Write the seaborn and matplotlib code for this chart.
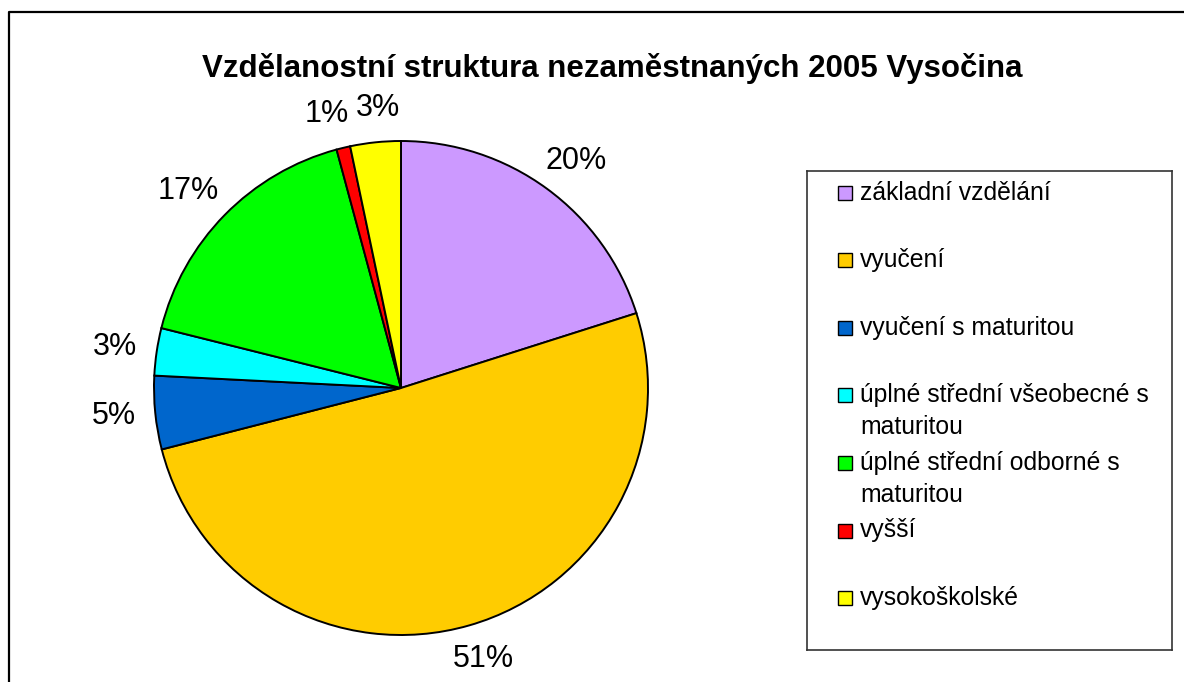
import textwrap
import numpy as np
import matplotlib
matplotlib.use("Agg")
import matplotlib.pyplot as plt
from matplotlib.lines import Line2D
from matplotlib.patches import Rectangle
import seaborn as sns

# data (percent shares, clockwise from 12 o'clock)
categories = ["základní vzdělání", "vyučení", "vyučení s maturitou",
              "úplné střední všeobecné s maturitou",
              "úplné střední odborné s maturitou", "vyšší", "vysokoškolské"]
shares = [20.1, 50.9, 4.8, 3.1, 16.9, 0.9, 3.3]
colors = ["#CC99FF", "#FFCC00", "#0066CC", "#00FFFF", "#00FF00", "#FF0000", "#FFFF00"]
title = "Vzdělanostní struktura nezaměstnaných 2005 Vysočina"

sns.set_theme(style="white")
plt.rcParams['font.family'] = ['Liberation Sans', 'DejaVu Sans']
plt.rcParams['text.color'] = 'black'

W, H = 1184, 682
fig = plt.figure(figsize=(W / 100, H / 100), dpi=100)

# pie axes: centre (401, 388) px, radius 247 px
cx, cy, r = 401, 388, 247
ax = fig.add_axes([(cx - r) / W, (H - cy - r) / H, 2 * r / W, 2 * r / H])
wedges, texts, autotexts = ax.pie(
    shares, colors=colors, startangle=90, counterclock=False,
    autopct=lambda p: f"{p:.0f}%", pctdistance=1.15,
    wedgeprops=dict(edgecolor="black", linewidth=1.4),
    textprops=dict(fontsize=22, color="black"))
ax.set_aspect("equal")
ax.set_xlim(-1, 1)
ax.set_ylim(-1, 1)
ax.axis("off")

# place labels Excel-style: bounding box just outside the rim
renderer = fig.canvas.get_renderer()
gap = 0.08
pos = []
for w, t in zip(wedges, autotexts):
    th = np.deg2rad((w.theta1 + w.theta2) / 2)
    bb = t.get_window_extent(renderer)
    hw, hh = bb.width / 2 / r, bb.height / 2 / r
    c, s = np.cos(th), np.sin(th)
    pos.append([(1 + gap) * c + c * hw, (1 + gap) * s + s * hh, hw, hh])
# push apart neighbouring labels that collide
for _ in range(50):
    moved = False
    for i in range(len(pos)):
        j = (i + 1) % len(pos)
        a, b = pos[i], pos[j]
        ox = a[2] + b[2] + 0.03 - abs(a[0] - b[0])
        oy = a[3] + b[3] - abs(a[1] - b[1])
        if ox > 0 and oy > 0:
            d = 1 if b[0] >= a[0] else -1
            a[0] -= d * ox / 2
            b[0] += d * ox / 2
            moved = True
    if not moved:
        break
for t, p in zip(autotexts, pos):
    t.set_position((p[0], p[1]))
    t.set_ha("center")
    t.set_va("center")

fig.text(612 / W, 1 - 68 / H, title, ha="center", va="center",
         fontsize=22.5, fontweight="bold")

# legend box drawn by hand to keep Excel-like fixed row slots
lx0, ly0, lx1, ly1 = 807, 171, 1172, 650
lax = fig.add_axes([lx0 / W, (H - ly1) / H, (lx1 - lx0) / W, (ly1 - ly0) / H])
lax.set_xlim(lx0, lx1)
lax.set_ylim(ly1, ly0)
lax.set_xticks([])
lax.set_yticks([])
for s in lax.spines.values():
    s.set_color("#333333")
    s.set_linewidth(1.2)
for i, (lab, col) in enumerate(zip(categories, colors)):
    yc = 192.5 + 67.6 * i
    lax.add_patch(Rectangle((838, yc - 7), 14, 14, facecolor=col,
                            edgecolor="black", linewidth=1))
    for j, line in enumerate(textwrap.wrap(lab, 25)):
        lax.text(860, yc + 32 * j, line, va="center", ha="left", fontsize=17.8)

# outer chart border (top and left only are visible)
fig.add_artist(Line2D([9 / W, 9 / W, 1.0], [0.0, 1 - 12 / H, 1 - 12 / H],
                      transform=fig.transFigure, color="black", linewidth=1.6))

fig.savefig("out.png", dpi=100)
